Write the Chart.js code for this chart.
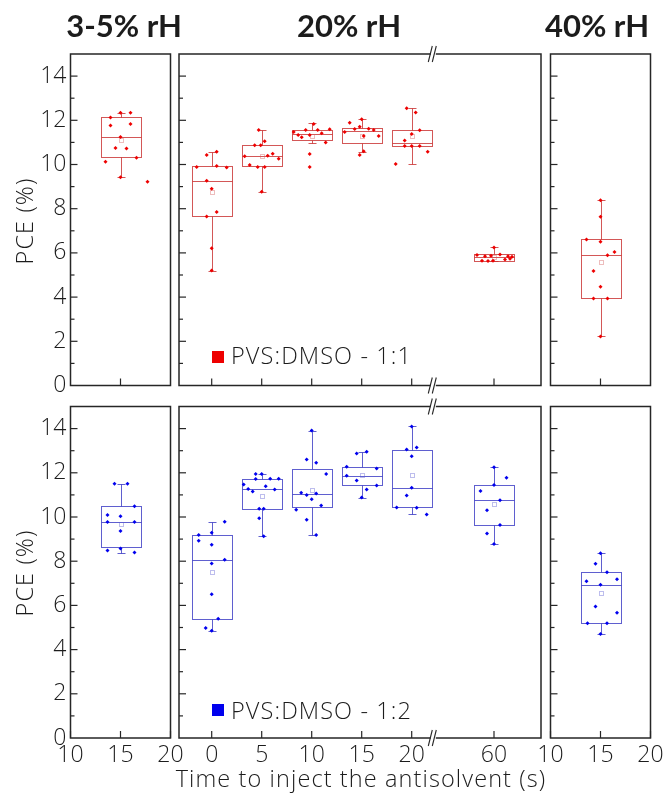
<!DOCTYPE html>
<html><head><meta charset="utf-8">
<script src="https://cdn.jsdelivr.net/npm/chart.js@4.4.1/dist/chart.umd.min.js"></script>
<style>
html,body{margin:0;padding:0;background:#fff;}
#wrap{position:relative;width:667px;height:810px;overflow:hidden;font-family:'Open Sans',Lato,sans-serif;color:#1c1c1c;}
canvas{position:absolute;left:0;top:0;}
.t{position:absolute;white-space:nowrap;}
.ttl{font-family:Lato,'Open Sans',sans-serif;font-weight:700;font-size:31px;line-height:30px;width:200px;text-align:center;top:10px;}
.lt{font-weight:300;font-size:23.5px;line-height:23.5px;letter-spacing:1.1px;}
.sq{position:absolute;width:12px;height:12px;}
</style></head><body><div id="wrap">
<canvas id="c1" width="667" height="810"></canvas>
<canvas id="c2" width="667" height="810"></canvas>
<canvas id="c3" width="667" height="810"></canvas>
<canvas id="c4" width="667" height="810"></canvas>
<canvas id="c5" width="667" height="810"></canvas>
<canvas id="c6" width="667" height="810"></canvas>
<div class="t ttl" style="left:24px">3-5% rH</div>
<div class="t ttl" style="left:249px">20% rH</div>
<div class="t ttl" style="left:497px">40% rH</div>
<div class="t lt" style="left:25px;top:221px;transform:translate(-50%,-50%) rotate(-90deg);">PCE (%)</div>
<div class="t lt" style="left:25px;top:573px;transform:translate(-50%,-50%) rotate(-90deg);">PCE (%)</div>
<div class="t lt" style="left:361px;top:767px;transform:translateX(-50%);">Time to inject the antisolvent (s)</div>
<div class="sq" style="left:212px;top:351px;background:#ee0000"></div>
<div class="t lt" style="left:231px;top:344px;">PVS:DMSO - 1:1</div>
<div class="sq" style="left:212px;top:704px;background:#0000ee"></div>
<div class="t lt" style="left:231px;top:699px;">PVS:DMSO - 1:2</div>
</div>
<script>
// ---------- data ----------
const yTickValues = [0,2,4,6,8,10,12,14];
const sideTickValues = [10,15,20];
const sideTickLabels = ['10','15','20'];
const sideCategory = 15;
const times = [0,5,10,15,20,60];
const timeLabels = ['0','5','10','15','20','60'];

// box = [lower whisker, Q1, median, Q3, upper whisker]
// PVS:DMSO 1:1 (red)
const redLowBox = [9.42,10.32,11.23,12.13,12.34];
const redLowMean = 11.1;
const redLowPts = [[-1.5,10.13],[-1,12.13],[-1,11.77],[-0.5,10.75],[0,12.34],[0,11.24],[0,9.42],[0.6,10.72],[1,12.34],[1,11.83],[1.6,10.31],[2.7,9.22]];

const redMidBoxes = [
  [5.2,7.68,9.25,9.93,10.56],
  [8.77,9.93,10.37,10.87,11.56],
  [10.99,11.11,11.38,11.56,11.86],
  [10.58,10.96,11.5,11.67,12.04],
  [10.02,10.82,10.96,11.55,12.54],
  [5.63,5.65,5.8,5.93,6.25]
];
const redMidMeans = [8.75,10.4,11.3,11.3,11.28,5.8];
const redMidPts = [
  [[0.5,10.58],[-0.5,10.43],[-1.5,9.89],[0.5,9.93],[1.5,9.86],[-0.5,9.27],[0,8.9],[0.5,7.85],[-0.5,7.65],[0,6.21],[0,5.2]],
  [[-0.3,11.56],[0.3,11.05],[-0.7,10.87],[-0.1,10.87],[-1.7,10.37],[0.6,10.4],[1.1,10.49],[1.7,10.26],[-1.2,9.98],[-0.4,9.89],[0.3,9.89],[0,8.77]],
  [[0.2,11.83],[-1.8,11.47],[-0.6,11.56],[0.6,11.56],[1.8,11.59],[-1.35,11.33],[-1.0,11.23],[-0.2,11.33],[1.0,11.41],[1.4,10.99],[-0.2,10.48],[-0.2,9.89]],
  [[0,12.05],[-1.2,11.89],[-0.2,11.71],[-0.7,11.61],[0.7,11.62],[1.2,11.56],[-1.7,11.47],[0.2,11.29],[1.7,11.29],[0.2,10.6],[-0.2,10.43]],
  [[-0.5,12.54],[0.4,12.35],[0.8,11.55],[-0.7,11.09],[0,11.38],[-0.7,10.84],[0,10.84],[0.8,10.84],[1.6,10.58],[-1.6,10.02]],
  [[0,6.25],[-1.7,5.9],[-0.9,5.85],[-0.3,5.87],[0.6,5.93],[1.4,5.85],[1.8,5.83],[-1.2,5.65],[-0.6,5.63],[-0.1,5.65],[1.1,5.7],[1.6,5.73]]
];

const redHighBox = [2.22,3.94,5.89,6.61,8.38];
const redHighMean = 5.6;
const redHighPts = [[0,8.38],[0,7.64],[-1.4,6.61],[0,6.51],[1.4,6.04],[0.7,5.89],[-0.7,5.18],[0,4.47],[-0.7,3.94],[0.7,3.94],[0,2.22]];

// PVS:DMSO 1:2 (blue)
const blueLowBox = [8.37,8.62,9.78,10.49,11.5];
const blueLowMean = 9.7;
const blueLowPts = [[-0.6,11.51],[0.7,11.5],[1.4,10.49],[-1.3,10.09],[0,10.03],[-1.3,9.77],[1.4,9.77],[0,9.37],[0,8.57],[-1.3,8.48],[1.4,8.39]];

const blueMidBoxes = [
  [4.86,5.4,8.06,9.19,9.78],
  [9.13,10.37,11.25,11.72,11.95],
  [9.18,10.46,11.04,12.19,13.91],
  [10.86,11.43,11.87,12.27,12.95],
  [10.15,10.43,11.32,13.04,14.1],
  [8.78,9.64,10.77,11.45,12.25]
];
const blueMidMeans = [7.53,10.97,11.24,11.9,11.92,10.6];
const blueMidPts = [
  [[1.3,9.78],[0,9.29],[-1.3,9.19],[-1.3,8.93],[0,8.74],[1.3,8.06],[0,7.9],[0,6.5],[0.65,5.4],[-0.6,4.98],[0,4.85]],
  [[-0.6,11.95],[0,11.95],[-1.8,11.47],[-1.35,11.27],[-0.9,11.15],[0.4,11.39],[-0.6,11.72],[0.85,11.73],[1.7,11.73],[1.3,11.25],[-0.25,10.37],[0.2,10.37],[-0.25,9.94],[0.2,9.13]],
  [[0,13.91],[-0.5,12.6],[0.45,12.46],[1.45,11.95],[-1.05,11.1],[-0.5,11.0],[0.45,11.06],[0,10.8],[0.95,10.52],[-1.55,10.33],[-0.5,9.88],[0.45,9.18]],
  [[-0.5,12.87],[0.5,12.95],[-1.5,12.27],[1.5,12.19],[-1.5,11.87],[-0.5,11.65],[0.5,11.24],[1.5,11.43],[0,10.88]],
  [[0,14.1],[-0.5,13.05],[0.5,13.14],[0,12.75],[0,11.32],[-0.5,10.97],[-1.5,10.43],[0.5,10.42],[1.5,10.11]],
  [[0,12.25],[1.25,11.78],[-1.35,11.18],[0,11.45],[0.6,10.76],[-0.7,10.3],[0.6,9.64],[-0.7,9.25],[0,8.78]]
];

const blueHighBox = [4.71,5.19,6.94,7.5,8.36];
const blueHighMean = 6.56;
const blueHighPts = [[0,8.36],[-0.5,7.88],[0.65,7.5],[-1.4,7.09],[0,6.94],[1.65,7.18],[-0.5,5.95],[1.65,5.67],[-1.3,5.19],[0.65,5.19],[0,4.71]];

// ---------- broken time axis ----------
const BREAK_AT = 22.16;
function axisPos(t){ return t <= 20 ? t : 28.23 + (t - 60); }

// ---------- layout ----------
const ROWS = [{t:54, b:385.5}, {t:406.5, b:738}];
const COLS = [{l:70.5, r:170.5, min:10, max:20}, {l:179, r:541, min:-3.27, max:32.93}, {l:550.5, r:650.5, min:10, max:20}];
const BOX_HALF = 2;
const RED = {pt:'#ee0000', box:'rgba(200,45,45,0.8)', mean:'rgba(210,90,90,0.4)'};
const BLUE = {pt:'#0000ee', box:'rgba(55,55,195,0.8)', mean:'rgba(90,90,210,0.4)'};
const FONT = '300 23px "Open Sans", Lato, sans-serif';

function line(ctx,x1,y1,x2,y2){ctx.beginPath();ctx.moveTo(x1,y1);ctx.lineTo(x2,y2);ctx.stroke();}
const px = v => Math.round(v)+0.5;

function makePlugin(cfg){
  return {
    id:'panel',
    beforeDatasetsDraw(chart){
      const {ctx, scales:{x,y}} = chart;
      ctx.save();
      ctx.lineWidth = 1;
      cfg.groups.forEach(g=>{
        const cx = px(x.getPixelForValue(g.x));
        const xl = px(x.getPixelForValue(g.x - BOX_HALF));
        const xr = px(x.getPixelForValue(g.x + BOX_HALF));
        const [wl,q1,md,q3,wh] = g.box.map(v=>px(y.getPixelForValue(v)));
        ctx.strokeStyle = cfg.col.box;
        line(ctx,cx,q3,cx,wh); line(ctx,cx,q1,cx,wl);
        line(ctx,cx-4,wh,cx+4,wh); line(ctx,cx-4,wl,cx+4,wl);
        ctx.strokeRect(xl,q3,xr-xl,q1-q3);
        line(ctx,xl,md,xr,md);
        const my = px(y.getPixelForValue(g.mean));
        ctx.strokeStyle = cfg.col.mean;
        ctx.strokeRect(cx-2,my-2,4,4);
      });
      ctx.restore();
    },
    afterDraw(chart){
      const {ctx, chartArea:a, scales:{x,y}} = chart;
      ctx.save();
      ctx.strokeStyle = '#262626';
      ctx.lineWidth = 1.5;
      ctx.strokeRect(a.left, a.top, a.right-a.left, a.bottom-a.top);
      ctx.lineWidth = 1.2;
      for(let v=1; v<15; v++){
        const yy = y.getPixelForValue(v);
        line(ctx, a.left, yy, a.left + (v%2===0 ? 7 : 4), yy);
      }
      cfg.xTicks.forEach(v=>{
        const xx = x.getPixelForValue(v);
        line(ctx, xx, a.bottom, xx, a.bottom-7);
      });
      ctx.fillStyle = '#1c1c1c';
      ctx.font = FONT;
      if(cfg.yLabels){
        ctx.textAlign='right'; ctx.textBaseline='middle';
        yTickValues.forEach(v=>ctx.fillText(String(v), a.left-4, y.getPixelForValue(v)));
      }
      if(cfg.xLabels){
        ctx.textAlign='center'; ctx.textBaseline='middle';
        cfg.xTicks.forEach((v,i)=>ctx.fillText(cfg.xLabels[i], x.getPixelForValue(v), a.bottom+17));
      }
      if(cfg.breakAt !== undefined){
        const xb = x.getPixelForValue(cfg.breakAt);
        [a.top, a.bottom].forEach(e=>{
          ctx.fillStyle='#fff';
          ctx.fillRect(xb-2.5, e-1.5, 5, 3);
          ctx.strokeStyle='#262626'; ctx.lineWidth=1.1;
          line(ctx, xb-5, e+8, xb-1, e-8);
          line(ctx, xb-1, e+8, xb+3, e-8);
        });
      }
      ctx.restore();
    }
  };
}

function makePanel(id, row, col, col_, groups, opts){
  const R = ROWS[row], C = COLS[col];
  const pts = [];
  groups.forEach(g=>g.pts.forEach(([dx,v])=>pts.push({x:g.x+dx, y:v})));
  new Chart(document.getElementById(id), {
    type:'scatter',
    data:{datasets:[{data:pts, backgroundColor:col_.pt, borderColor:col_.pt, pointRadius:2, pointStyle:'rectRot', pointBorderWidth:0, pointHoverRadius:2}]},
    options:{
      responsive:false, animation:false, devicePixelRatio:1,
      layout:{padding:{left:C.l, top:R.t, right:667-C.r, bottom:810-R.b}},
      scales:{
        x:{type:'linear', min:C.min, max:C.max, display:false},
        y:{type:'linear', min:0, max:15, display:false}
      },
      plugins:{legend:{display:false}, tooltip:{enabled:false}}
    },
    plugins:[makePlugin(Object.assign({groups, col:col_}, opts))]
  });
}

function sideGroup(box, mean, pts){ return [{x:sideCategory, box, mean, pts}]; }
function midGroups(boxes, means, pts){ return times.map((t,i)=>({x:axisPos(t), box:boxes[i], mean:means[i], pts:pts[i]})); }
const midTickPos = times.map(axisPos);

makePanel('c1',0,0,RED, sideGroup(redLowBox,redLowMean,redLowPts), {yLabels:true, xTicks:[sideCategory]});
makePanel('c2',0,1,RED, midGroups(redMidBoxes,redMidMeans,redMidPts), {xTicks:midTickPos, breakAt:BREAK_AT});
makePanel('c3',0,2,RED, sideGroup(redHighBox,redHighMean,redHighPts), {xTicks:[sideCategory]});
makePanel('c4',1,0,BLUE, sideGroup(blueLowBox,blueLowMean,blueLowPts), {yLabels:true, xTicks:sideTickValues, xLabels:sideTickLabels});
makePanel('c5',1,1,BLUE, midGroups(blueMidBoxes,blueMidMeans,blueMidPts), {xTicks:midTickPos, xLabels:timeLabels, breakAt:BREAK_AT});
makePanel('c6',1,2,BLUE, sideGroup(blueHighBox,blueHighMean,blueHighPts), {xTicks:sideTickValues, xLabels:sideTickLabels});
</script>
</body></html>
